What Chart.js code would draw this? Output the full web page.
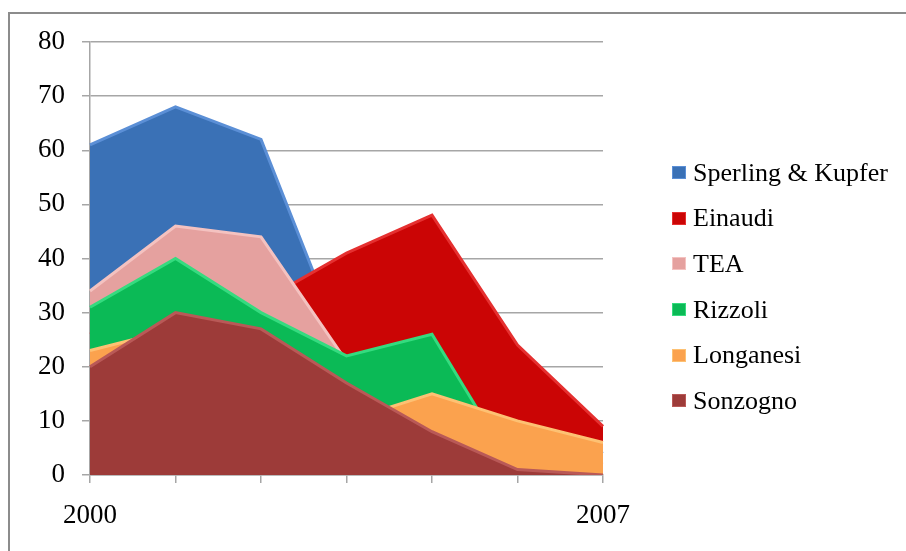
<!DOCTYPE html>
<html>
<head>
<meta charset="utf-8">
<script src="https://cdn.jsdelivr.net/npm/chart.js@4.4.1/dist/chart.umd.min.js"></script>
<style>
  html, body { margin: 0; padding: 0; background: #fff; overflow: hidden; }
  .wrap { position: relative; width: 906px; height: 551px; }
  .frame {
    position: absolute; left: 8px; top: 12px; width: 960px; height: 600px;
    border: 2px solid #8c8c8c; box-sizing: border-box;
  }
  #chart { position: absolute; left: 0; top: 0; }
  .legend {
    position: absolute; left: 672px; top: 150px;
    font-family: 'Liberation Serif', 'Times New Roman', serif;
    font-size: 26px; color: #000;
  }
  .legend-item { display: flex; align-items: center; height: 45.6px; white-space: nowrap; }
  .legend-box { width: 14px; height: 13px; margin-right: 7px; box-sizing: border-box; }
</style>
</head>
<body>
<div class="wrap">
  <div class="frame"></div>
  <canvas id="chart" width="906" height="551"></canvas>
  <div class="legend" id="legend"></div>
</div>
<script>
// categories (only the first and last year are labelled on the axis)
const years = ['2000', '', '', '', '', '', '2007']

// series values
const sperling = [61, 68, 62, 22, 18, 10, 4]
const einaudi = [26, 30, 32, 41, 48, 24, 9]
const tea = [34, 46, 44, 21, 12, 5, 2]
const rizzoli = [31, 40, 30, 22, 26, 0, 0]
const longanesi = [23, 27, 20, 10, 15, 10, 6]
const sonzogno = [20, 30, 27, 17, 8, 1, 0]

const yMin = 0
const yMax = 80
const yStep = 10

// legend order, back to front
const series = [
    { name: 'Sperling & Kupfer', data: sperling, fill: '#3a71b6', edge: '#5b8fd6' },
    { name: 'Einaudi', data: einaudi, fill: '#cb0505', edge: '#e53030' },
    { name: 'TEA', data: tea, fill: '#e5a19f', edge: '#f4c2c0' },
    { name: 'Rizzoli', data: rizzoli, fill: '#0bba56', edge: '#35db7f' },
    { name: 'Longanesi', data: longanesi, fill: '#fba24e', edge: '#fdc173' },
    { name: 'Sonzogno', data: sonzogno, fill: '#9d3b39', edge: '#b95957' }
]

const serif = "'Liberation Serif', 'Times New Roman', serif"

// chart.js draws dataset 0 last, so the front series goes first
const datasets = series.slice().reverse().map(s => ({
    label: s.name,
    data: s.data,
    backgroundColor: s.fill,
    borderColor: s.edge,
    borderWidth: 3,
    fill: 'origin',
    pointRadius: 0,
    tension: 0
}))

new Chart(document.getElementById('chart'), {
    type: 'line',
    data: { labels: years, datasets: datasets },
    options: {
        responsive: false,
        animation: false,
        layout: { padding: { top: 42, right: 303, left: 0, bottom: 0 } },
        plugins: {
            legend: { display: false },
            tooltip: { enabled: false }
        },
        scales: {
            x: {
                afterFit(scale) { scale.height = 76 },
                grid: { drawOnChartArea: false, tickLength: 8, color: '#a6a6a6', lineWidth: 1.5 },
                border: { color: '#a6a6a6', width: 1.5 },
                ticks: {
                    autoSkip: false, maxRotation: 0, padding: 17,
                    color: '#000', font: { family: serif, size: 27 }
                }
            },
            y: {
                min: yMin,
                max: yMax,
                afterFit(scale) { scale.width = 90 },
                grid: { color: '#a6a6a6', lineWidth: 1.5, tickLength: 8 },
                border: { color: '#a6a6a6', width: 1.5 },
                ticks: {
                    stepSize: yStep, padding: 17,
                    color: '#000', font: { family: serif, size: 27 }
                }
            }
        }
    }
})

// html legend
const legend = document.getElementById('legend')
series.forEach(s => {
    const item = document.createElement('div')
    item.className = 'legend-item'
    const box = document.createElement('span')
    box.className = 'legend-box'
    box.style.background = s.fill
    box.style.border = '1px solid ' + s.edge
    const text = document.createElement('span')
    text.textContent = s.name
    item.appendChild(box)
    item.appendChild(text)
    legend.appendChild(item)
})
</script>
</body>
</html>
